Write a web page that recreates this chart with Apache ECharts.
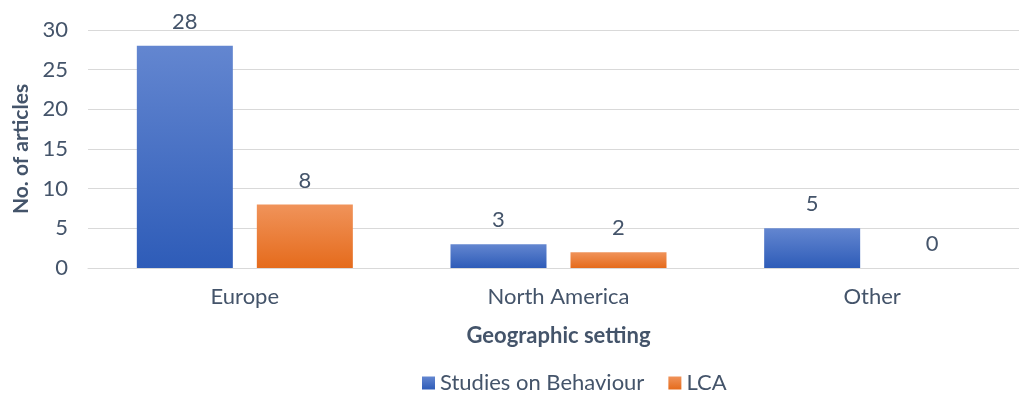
<!DOCTYPE html>
<html>
<head>
<meta charset="utf-8">
<script src="https://cdn.jsdelivr.net/npm/echarts@6/dist/echarts.min.js"></script>
<style>
  html, body { margin: 0; padding: 0; background: #fff; }
  #chart { width: 1019px; height: 396px; }
</style>
</head>
<body>
<div id="chart"></div>
<script>
// geographic setting of reviewed articles
const regions = ['Europe', 'North America', 'Other'];
const behaviourCounts = [28, 3, 5];
const lcaCounts = [8, 2, 0];
const yTicks = [0, 5, 10, 15, 20, 25, 30];

const TEXT = '#44546A';
const FONT = 'Lato, "Open Sans", sans-serif';

const grad = (top, bottom) => new echarts.graphic.LinearGradient(0, 0, 0, 1, [
    { offset: 0, color: top },
    { offset: 1, color: bottom }
]);

const chart = echarts.init(document.getElementById('chart'), null, { renderer: 'canvas' });

const labelStyle = {
    show: true,
    position: 'top',
    distance: 13,
    color: TEXT,
    fontSize: 22,
    fontFamily: FONT
};

chart.setOption({
    animation: false,
    textStyle: { fontFamily: FONT },
    // plot area runs a little past the right edge of the picture
    grid: { left: 88, right: -10, top: 30, bottom: 128, outerBoundsMode: 'none', containLabel: false },
    legend: {
        bottom: -3,
        left: 417,
        itemWidth: 13,
        itemHeight: 13,
        itemGap: 24,
        icon: 'rect',
        textStyle: { color: TEXT, fontSize: 22, fontFamily: FONT },
        data: ['Studies on Behaviour', 'LCA']
    },
    xAxis: {
        type: 'category',
        data: regions,
        name: 'Geographic setting',
        nameLocation: 'middle',
        nameGap: 57,
        nameTextStyle: { color: TEXT, fontSize: 22, fontWeight: 'bold', fontFamily: FONT },
        axisTick: { show: false },
        axisLine: { lineStyle: { color: '#D9D9D9', width: 1 } },
        axisLabel: { color: TEXT, fontSize: 22, margin: 18, fontFamily: FONT }
    },
    yAxis: {
        type: 'value',
        min: yTicks[0],
        max: yTicks[yTicks.length - 1],
        interval: 5,
        name: 'No. of articles',
        nameLocation: 'middle',
        nameGap: 49,
        nameTextStyle: { color: TEXT, fontSize: 21, fontWeight: 'bold', fontFamily: FONT },
        axisLine: { show: false },
        axisTick: { show: false },
        axisLabel: { color: TEXT, fontSize: 22, margin: 20, fontFamily: FONT },
        splitLine: { lineStyle: { color: '#D9D9D9', width: 1 } }
    },
    series: [
        {
            name: 'Studies on Behaviour',
            type: 'bar',
            data: behaviourCounts,
            barWidth: 96,
            barGap: '25%',
            itemStyle: { color: grad('#6386D0', '#2E5CB8') },
            label: labelStyle
        },
        {
            name: 'LCA',
            type: 'bar',
            data: lcaCounts,
            barWidth: 96,
            itemStyle: { color: grad('#F0935A', '#E56B1C') },
            label: labelStyle
        }
    ]
});
</script>
</body>
</html>
